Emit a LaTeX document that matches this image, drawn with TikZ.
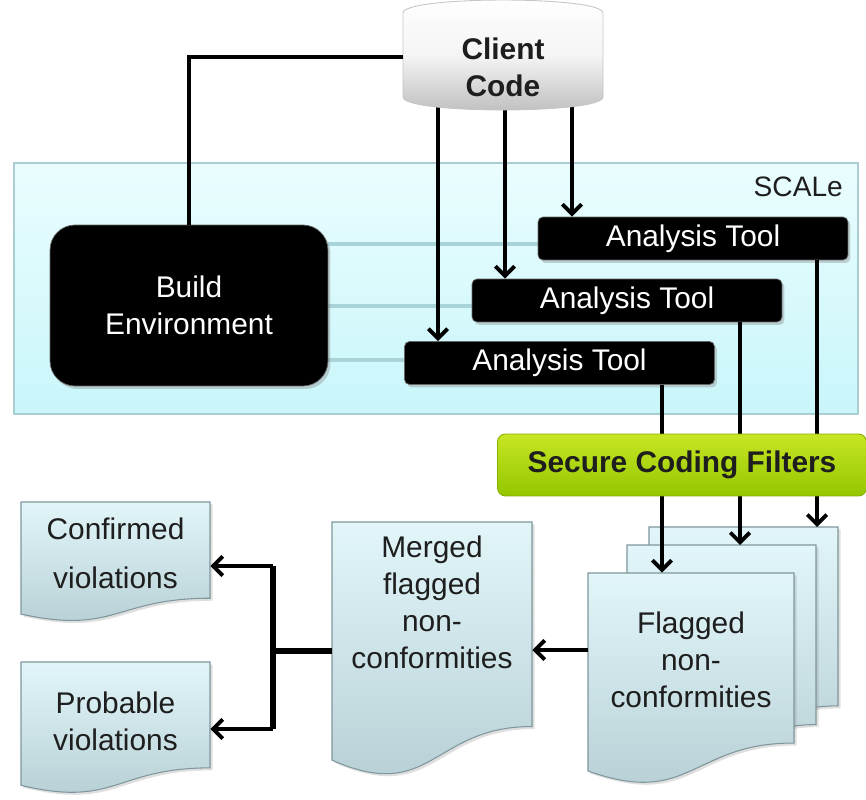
\documentclass[tikz,border=0pt]{standalone}
\usepackage{fontspec}
\setmainfont{Liberation Sans}
\usetikzlibrary{arrows.meta,shadows,calc}
\pgfdeclarelayer{bgzero}
\pgfdeclarelayer{bgone}
\pgfsetlayers{bgzero,bgone,main}
\definecolor{scTop}{HTML}{EAFDFE}
\definecolor{scBot}{HTML}{C9F6FA}
\definecolor{scEdge}{HTML}{A9CDD2}
\definecolor{tealln}{HTML}{A8D3D8}
\definecolor{gTop}{HTML}{C8E624}
\definecolor{gBot}{HTML}{93C700}
\definecolor{gEdge}{HTML}{86B000}
\definecolor{dTop}{HTML}{E2F6F9}
\definecolor{dBot}{HTML}{B4CDD2}
\definecolor{dEdge}{HTML}{7E979C}
\definecolor{cylBot}{HTML}{BDBDBD}
\definecolor{txt}{HTML}{1E1E1E}
\newcommand\mydoc[4]{% left, top, width, height (px)
  \shadedraw[docshape] (#1,#2) -- ({#1+#3},#2) -- ({#1+#3},{#2+0.802*#4})
    .. controls ({#1+0.5*#3},{#2+0.802*#4}) and ({#1+0.5*#3},{#2+1.107*#4}) .. (#1,{#2+0.934*#4}) -- cycle;}
\begin{document}
\begin{tikzpicture}[x=0.02cm,y=-0.02cm,
  lbl/.style={font=\fontsize{17}{21}\selectfont, align=center, text=txt, inner sep=0pt},
  blackbox/.style={fill=black, draw=black!60, text=white, font=\fontsize{17}{21}\selectfont, align=center,
     drop shadow={opacity=0.35, shadow xshift=0.05cm, shadow yshift=-0.06cm}},
  tool/.style={blackbox, rounded corners=0.1cm, minimum width=6.2cm, minimum height=0.86cm, inner sep=0pt},
  buildbox/.style={blackbox, rounded corners=0.5cm, minimum width=5.56cm, minimum height=3.22cm, inner sep=0pt},
  scalebox/.style={draw=scEdge, line width=0.8pt, top color=scTop, bottom color=scBot,
     minimum width=16.88cm, minimum height=5.02cm, inner sep=0pt},
  filt/.style={draw=gEdge, line width=0.5pt, top color=gTop, bottom color=gBot, rounded corners=0.16cm,
     minimum width=7.38cm, minimum height=1.24cm, inner sep=0pt, font=\bfseries\fontsize{17}{21}\selectfont, text=txt},
  docshape/.style={draw=dEdge, line width=0.6pt, top color=dTop, bottom color=dBot,
     drop shadow={opacity=0.25, shadow xshift=0.05cm, shadow yshift=-0.05cm}},
  docbox/.style={inner sep=0pt, minimum width=#1},
  conn/.style={line width=2.6pt, black},
  arr/.style={conn, -{Straight Barb[length=5.5pt,width=11pt,line width=2.2pt]}},
  tealline/.style={tealln, line width=2.8pt}]
\useasboundingbox (0,0) rectangle (866,800);

% SCALe container
\begin{pgfonlayer}{bgzero}
\node[scalebox] (sc) at (436,288.5) {};
\end{pgfonlayer}
\node[font=\fontsize{16}{19}\selectfont, anchor=east, text=txt] (scl) at (849,187) {SCALe};

% build environment and analysis tools
\node[buildbox] (be) at (189,305.5) {Build\\Environment};
\node[tool] (t1) at (693,238.5) {Analysis Tool};
\node[tool] (t2) at (627,300.5) {Analysis Tool};
\node[tool] (t3) at (559.5,363) {Analysis Tool};
\coordinate (y1) at (0,244);
\coordinate (y2) at (0,306);
\coordinate (y3) at (0,360);
\begin{pgfonlayer}{bgone}
\draw[tealline] (be.east |- y1) -- (t1.west |- y1);
\draw[tealline] (be.east |- y2) -- (t2.west |- y2);
\draw[tealline] (be.east |- y3) -- (t3.west |- y3);
\end{pgfonlayer}

% client code cylinder
\coordinate (c1) at (438,104);
\coordinate (c2) at (505,106);
\coordinate (c3) at (572,104);
\draw[arr] (c1) -- (c1 |- t3.north);
\draw[arr] (c2) -- (c2 |- t2.north);
\draw[arr] (c3) -- (c3 |- t1.north);
\shadedraw[draw=gray!45, line width=0.5pt, top color=white, bottom color=cylBot, middle color=white!96!black]
  (403,13) -- (403,97) .. controls (403,114.3) and (603,114.3) .. (603,97) -- (603,13)
  .. controls (603,-4.3) and (403,-4.3) .. (403,13) -- cycle;
\node[inner sep=0pt, minimum width=4cm, minimum height=1.68cm] (cc) at (503,57) {};
\node[lbl, font=\bfseries\fontsize{17}{21}\selectfont] (cct) at (503,67) {Client\\Code};
\draw[conn] (cc.west) -| (be.north);

% flagged documents (back to front)
\mydoc{649}{527}{189}{223}
\mydoc{627}{545}{189}{224}
\mydoc{588}{573}{206}{212}
\node[docbox=3.78cm, minimum height=0.2cm, anchor=north] (fl3) at (743.5,527) {};
\node[docbox=3.78cm, minimum height=0.2cm, anchor=north] (fl2) at (721.5,545) {};
\node[docbox=4.12cm, minimum height=3.4cm] (fl1) at (691,658) {};
\node[lbl] (flt) at (691,660) {Flagged\\non-\\conformities};

% merged document
\mydoc{332}{522}{200}{255}
\node[docbox=4cm, minimum height=4.1cm] (mg) at (432,624.5) {};
\node[lbl] (mgt) at (432,602) {Merged\\flagged\\non-\\conformities};

% confirmed / probable
\mydoc{21}{502}{189}{120}
\node[docbox=3.78cm, minimum height=1.92cm] (cf) at (115.5,550) {};
\node[lbl] (cft) at (115.5,553) {Confirmed\\[7pt]violations};
\mydoc{21}{662}{189}{132}
\node[docbox=3.78cm, minimum height=2.1cm] (pb) at (115.5,715) {};
\node[lbl] (pbt) at (115.5,721.5) {Probable\\violations};

% tools -> flagged docs
\coordinate (d1) at (817,0);
\coordinate (d2) at (740,0);
\coordinate (d3) at (662,0);
\draw[arr] (t1.south -| d1) -- (fl3.north -| d1);
\draw[arr] (t2.south -| d2) -- (fl2.north -| d2);
\draw[arr] (t3.south -| d3) -- (fl1.north -| d3);

% secure coding filters
\node[filt] (sf) at (682,465) {Secure Coding Filters};

% flagged -> merged -> confirmed / probable
\coordinate (ym) at (0,650);
\draw[arr, line width=2pt] (fl1.west |- ym) -- (mg.east |- ym);
\coordinate (j) at (273,651);
\coordinate (ycf) at (0,566);
\coordinate (ypb) at (0,729);
\draw[line width=3pt] (mg.west |- j) -- (j);
\draw[line width=3pt] (j |- ycf) -- (j |- ypb);
\draw[arr] (j |- ycf) -- (cf.east |- ycf);
\draw[arr] (j |- ypb) -- (pb.east |- ypb);
\end{tikzpicture}
\end{document}
